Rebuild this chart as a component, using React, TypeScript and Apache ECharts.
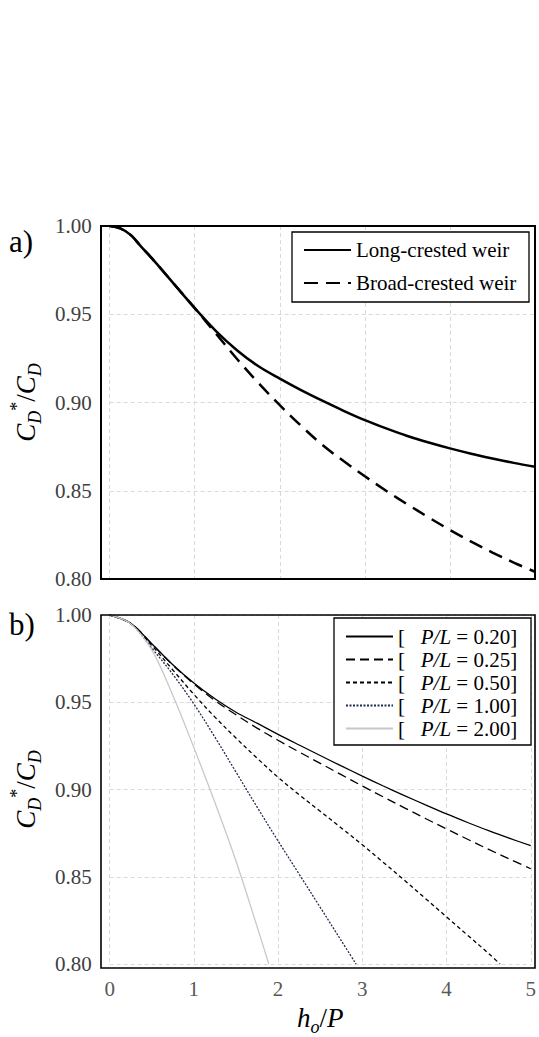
import React, { useEffect, useRef } from "react";
import * as echarts from "echarts";

// ---- Data ----
const X_A = [0, 0.125, 0.25, 0.375, 0.5, 0.75, 1, 1.25, 1.5, 1.75, 2, 2.25, 2.5, 2.75, 3, 3.25, 3.5, 3.75, 4, 4.25, 4.5, 4.75, 5];
const longCrested = [1.0, 0.9986, 0.9948, 0.988, 0.9815, 0.9675, 0.9535, 0.9405, 0.9295, 0.9205, 0.9135, 0.907, 0.901, 0.8953, 0.89, 0.8853, 0.881, 0.8773, 0.874, 0.871, 0.8683, 0.8658, 0.8636];
const broadCrested = [1.0, 0.9986, 0.9948, 0.988, 0.9815, 0.9675, 0.9535, 0.939, 0.9245, 0.911, 0.8985, 0.8868, 0.876, 0.8668, 0.8582, 0.85, 0.8423, 0.8349, 0.8278, 0.8212, 0.815, 0.8093, 0.8041];

const X_B = [0, 0.25, 0.5, 0.75, 1, 1.25, 1.5, 1.75, 2, 2.25, 2.5, 2.75, 3, 3.25, 3.5, 3.75, 4, 4.25, 4.5, 4.75, 5];
const pl020 = [1.0, 0.9953, 0.9835, 0.9715, 0.961, 0.952, 0.9443, 0.938, 0.9316, 0.9255, 0.9195, 0.9135, 0.9077, 0.902, 0.8965, 0.8912, 0.886, 0.8811, 0.8764, 0.872, 0.8678];
const pl025 = [1.0, 0.9953, 0.9835, 0.9713, 0.9605, 0.951, 0.9428, 0.9352, 0.9282, 0.9215, 0.915, 0.9085, 0.902, 0.8957, 0.8895, 0.8834, 0.8774, 0.8715, 0.8657, 0.8601, 0.8546];
const X_050 = [0, 0.25, 0.5, 0.75, 1, 1.25, 1.5, 1.75, 2, 2.25, 2.5, 2.75, 3, 3.25, 3.5, 3.75, 4, 4.25, 4.5, 4.635];
const pl050 = [1.0, 0.995, 0.9825, 0.9685, 0.9545, 0.9415, 0.9295, 0.918, 0.907, 0.897, 0.8875, 0.878, 0.8683, 0.8582, 0.848, 0.8375, 0.827, 0.8165, 0.806, 0.8];
const X_100 = [0, 0.25, 0.5, 0.75, 1, 1.25, 1.5, 1.75, 2, 2.25, 2.5, 2.75, 2.926];
const pl100 = [1.0, 0.995, 0.981, 0.966, 0.949, 0.93, 0.91, 0.89, 0.8705, 0.8515, 0.8325, 0.8134, 0.8];
const X_200 = [0, 0.25, 0.5, 0.75, 1, 1.25, 1.5, 1.75, 1.89];
const pl200 = [1.0, 0.995, 0.98, 0.954, 0.924, 0.8925, 0.859, 0.8215, 0.8];

const xTicks = [0, 1, 2, 3, 4, 5];
const yMin = 0.8;
const yMax = 1.0;
const yStep = 0.05;

const legendA = ["Long-crested weir", "Broad-crested weir"];
const legendB = ["[   P/L = 0.20]", "[   P/L = 0.25]", "[   P/L = 0.50]", "[   P/L = 1.00]", "[   P/L = 2.00]"];

const FONT = "Liberation Serif";

const zip = (xs: number[], ys: number[]) => xs.map((x, i) => [x, ys[i]]);

export default function App() {
  const ref = useRef<HTMLDivElement>(null);

  useEffect(() => {
    if (!ref.current) return;
    const chart = echarts.init(ref.current, undefined, { renderer: "svg" });

    const gridLine = { show: true, lineStyle: { color: "#d9d9d9", type: [4, 3] as any, width: 1 } };

    const yAxisBase = (gi: number) => ({
      type: "value",
      gridIndex: gi,
      min: yMin,
      max: yMax,
      interval: yStep,
      axisLine: { show: false },
      axisTick: { show: false },
      splitLine: gridLine,
      axisLabel: {
        formatter: (v: number) => v.toFixed(2),
        fontFamily: FONT,
        fontSize: 21,
        color: "#404040",
        margin: 18,
      },
      name: "{c|C}{s|D}{p|*}{n|/}{c|C}{s|D}",
      nameLocation: "middle",
      nameRotate: 90,
      nameGap: 54,
      nameTextStyle: {
        fontFamily: FONT,
        color: "#000",
        rich: {
          c: { fontFamily: FONT, fontStyle: "italic", fontSize: 27, lineHeight: 36, color: "#000", verticalAlign: "middle" },
          n: { fontFamily: FONT, fontSize: 27, lineHeight: 36, color: "#000", verticalAlign: "middle" },
          s: { fontFamily: FONT, fontStyle: "italic", fontSize: 18, lineHeight: 18, color: "#000", verticalAlign: "bottom" },
          p: { fontFamily: FONT, fontSize: 18, lineHeight: 18, color: "#000", verticalAlign: "top" },
        },
      },
    });

    const xAxisBase = (gi: number, showLabels: boolean) => ({
      type: "value",
      gridIndex: gi,
      min: xTicks[0],
      max: xTicks[xTicks.length - 1],
      interval: 1,
      axisLine: { show: false },
      axisTick: { show: false },
      splitLine: gridLine,
      axisLabel: {
        show: showLabels,
        fontFamily: FONT,
        fontSize: 21,
        color: "#595959",
        margin: 14,
      },
      ...(showLabels
        ? {
            name: "{h|h}{s|o}{n|/}{h|P}",
            nameLocation: "middle",
            nameGap: 36,
            nameTextStyle: {
              fontFamily: FONT,
              color: "#000",
              rich: {
                h: { fontFamily: FONT, fontStyle: "italic", fontSize: 27, lineHeight: 36, color: "#000", verticalAlign: "middle" },
                n: { fontFamily: FONT, fontSize: 27, lineHeight: 36, color: "#000", verticalAlign: "middle" },
                s: { fontFamily: FONT, fontStyle: "italic", fontSize: 18, lineHeight: 18, color: "#000", verticalAlign: "bottom" },
              },
            },
          }
        : {}),
    });

    const lineSeries = (name: string, gi: number, data: number[][], color: string, width: number, type: any) => ({
      name,
      type: "line",
      xAxisIndex: gi,
      yAxisIndex: gi,
      data,
      symbol: "none",
      showSymbol: false,
      smooth: 0.35,
      z: 4,
      lineStyle: { color, width, type },
      itemStyle: { color },
    });

    const legendCommon = {
      orient: "vertical",
      itemWidth: 47,
      z: 10,
      padding: 0,
      selectedMode: false,
      itemStyle: { opacity: 0 },
    };

    const option: any = {
      animation: false,
      backgroundColor: "#fff",
      textStyle: { fontFamily: FONT },
      grid: [
        { left: 101, top: 226, width: 434, height: 353, show: false },
        { left: 101, top: 615, width: 434, height: 353, show: false },
      ],
      xAxis: [xAxisBase(0, false), xAxisBase(1, true)],
      yAxis: [yAxisBase(0), yAxisBase(1)],
      legend: [
        {
          ...legendCommon,
          data: legendA,
          left: 303,
          top: 239,
          itemHeight: 20,
          itemGap: 11,
          textStyle: { fontFamily: FONT, fontSize: 21, lineHeight: 22, color: "#000" },
        },
        {
          ...legendCommon,
          data: legendB,
          left: 345,
          top: 626,
          itemHeight: 14,
          itemGap: 2,
          formatter: (name: string) => name.replace("P/L", "{i|P/L}"),
          textStyle: {
            fontFamily: FONT,
            fontSize: 21,
            lineHeight: 20,
            color: "#000",
            rich: {
              i: { fontFamily: FONT, fontStyle: "italic", fontSize: 21, lineHeight: 20, color: "#000" },
            },
          },
        },
      ],
      graphic: {
        elements: [
          {
            type: "rect",
            z: 5,
            shape: { x: 292, y: 232, width: 237, height: 70 },
            style: { fill: "#fff", stroke: "#000", lineWidth: 1.3 },
          },
          {
            type: "rect",
            z: 5,
            shape: { x: 334, y: 618, width: 197, height: 127 },
            style: { fill: "#fff", stroke: "#000", lineWidth: 1.3 },
          },
          {
            type: "rect",
            z: 20,
            shape: { x: 101, y: 226, width: 434, height: 353 },
            style: { fill: "none", stroke: "#000", lineWidth: 2 },
          },
          {
            type: "rect",
            z: 20,
            shape: { x: 101, y: 615, width: 434, height: 353 },
            style: { fill: "none", stroke: "#000", lineWidth: 1.6 },
          },
          {
            type: "text",
            x: 9,
            y: 241,
            z: 5,
            style: { text: "a)", fontFamily: FONT, fontSize: 31, fill: "#000", align: "left", verticalAlign: "middle" },
          },
          {
            type: "text",
            x: 9,
            y: 624,
            z: 5,
            style: { text: "b)", fontFamily: FONT, fontSize: 31, fill: "#000", align: "left", verticalAlign: "middle" },
          },
        ],
      },
      series: [
        lineSeries(legendA[0], 0, zip(X_A, longCrested), "#000", 2.5, "solid"),
        lineSeries(legendA[1], 0, zip(X_A, broadCrested), "#000", 2.5, [14, 8]),
        lineSeries(legendB[0], 1, zip(X_B, pl020), "#000", 1.3, "solid"),
        lineSeries(legendB[1], 1, zip(X_B, pl025), "#000", 1.3, [9, 5]),
        lineSeries(legendB[2], 1, zip(X_050, pl050), "#000", 1.3, [4, 3]),
        lineSeries(legendB[3], 1, zip(X_100, pl100), "#1f2d4d", 1.3, [2, 1.5]),
        lineSeries(legendB[4], 1, zip(X_200, pl200), "#c8c8c8", 1.3, "solid"),
      ],
    };

    chart.setOption(option);
    return () => chart.dispose();
  }, []);

  return (
    <div
      ref={ref}
      style={{ position: "absolute", left: 0, top: 0, width: 539, height: 1037, background: "#fff" }}
    />
  );
}
